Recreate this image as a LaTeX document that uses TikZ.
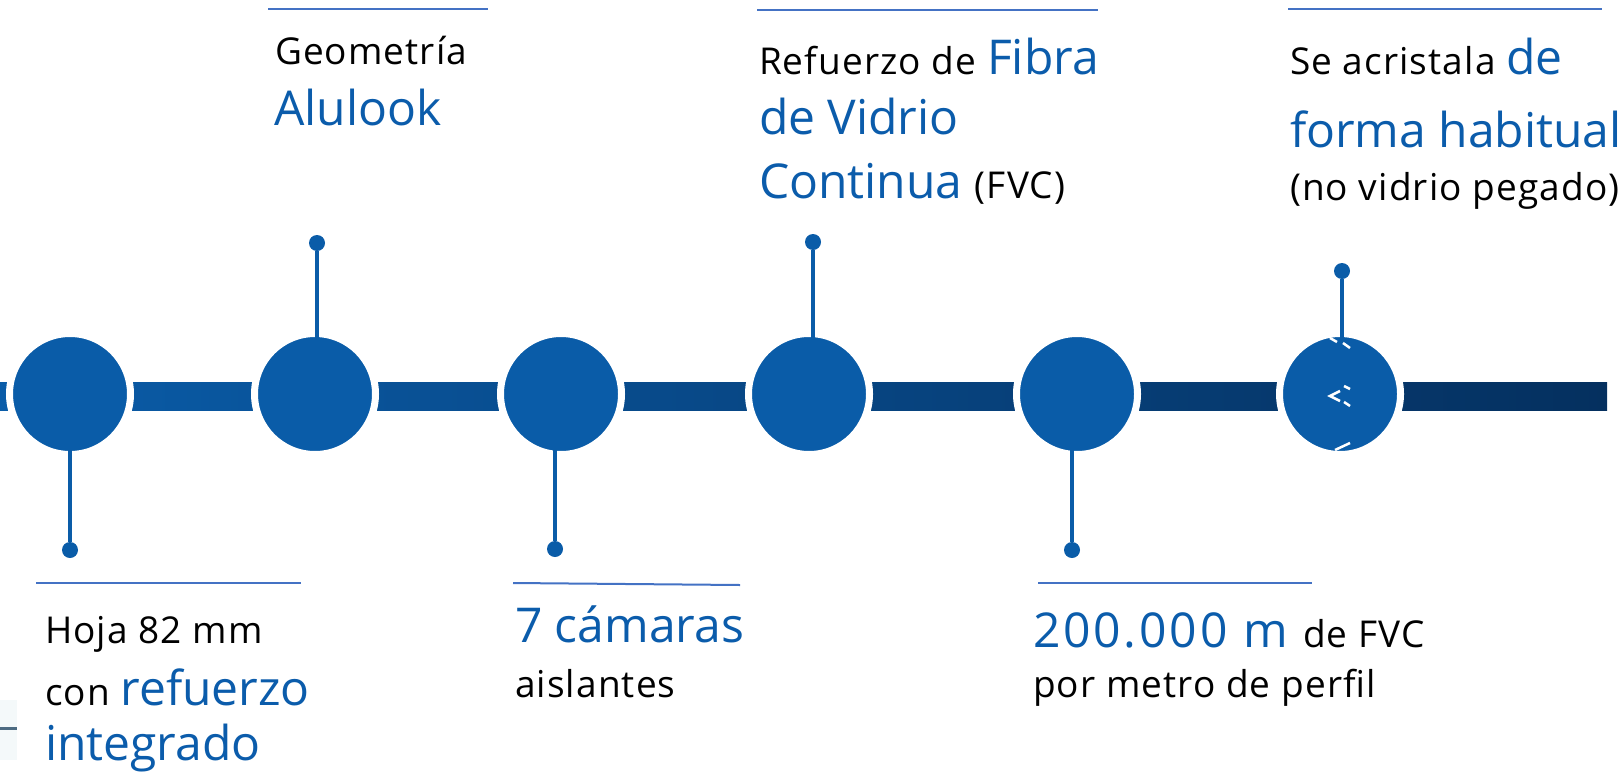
\documentclass[tikz,border=0pt]{standalone}
\usepackage{fontspec}
\setmainfont{Open Sans}
\definecolor{circblue}{HTML}{0A5CA8}
\definecolor{textblue}{HTML}{0B5CAB}
\definecolor{bardark}{HTML}{05305F}
\definecolor{rule}{HTML}{4472C4}
\newcommand\txtk[1]{{\fontsize{37}{44}\selectfont\addfontfeatures{LetterSpace=3}\color{black}#1}}
\newcommand\txtb[1]{{\fontsize{48}{56}\selectfont\color{textblue}#1}}
\newcommand\txtbw[1]{{\fontsize{48}{56}\selectfont\addfontfeatures{LetterSpace=6}\color{textblue}#1}}
\begin{document}
\begin{tikzpicture}[x=1pt,y=-1pt,
  circ/.style={circle,fill=circblue,draw=white,line width=7pt,minimum size=121pt,inner sep=0pt},
  dot/.style={circle,fill=circblue,minimum size=16pt,inner sep=0pt},
  stem/.style={draw=circblue,line width=4.5pt},
  rulel/.style={draw=rule,line width=2pt},
  lab/.style={anchor=base west,inner sep=0pt,outer sep=0pt}]
\useasboundingbox (0,0) rectangle (1621,779);
% left artifact
\fill[color={rgb,255:red,244;green,249;blue,250}] (0,700) rectangle (17,760);
\draw[color={rgb,255:red,77;green,107;blue,130},line width=3pt] (0,728) -- (17,728);
% bar
\shade[left color=circblue,right color=bardark] (0,382) rectangle (1607,410);
% circles
\node[circ] (c1) at (70,394) {};
\node[circ] (c2) at (315,394) {};
\node[circ] (c3) at (561,394) {};
\node[circ] (c4) at (809,394) {};
\node[circ] (c5) at (1077,394) {};
\node[circ] (c6) at (1340,394) {};
% dots
\node[dot] (d1) at (70,550) {};
\node[dot] (d2) at (317,243) {};
\node[dot] (d3) at (555,549) {};
\node[dot] (d4) at (813,242) {};
\node[dot] (d5) at (1072,550) {};
\node[dot] (d6) at (1342,271) {};
\draw[stem] (d1) -- (d1 |- c1.center);
\draw[stem] (d2) -- (d2 |- c2.center);
\draw[stem] (d3) -- (d3 |- c3.center);
\draw[stem] (d4) -- (d4 |- c4.center);
\draw[stem] (d5) -- (d5 |- c5.center);
\draw[stem] (d6) -- (d6 |- c6.center);
% white marks on last circle
\begin{scope}[draw=white,line width=2.5pt]
\draw (1340,391) -- (1330,396) -- (1340,401);
\draw (1344,386) -- (1350,389);
\draw (1344,402) -- (1350,406);
\draw (1330,338) -- (1337,342);
\draw (1343,343) -- (1350,348);
\draw (1335,450) -- (1350,443);
\end{scope}
% rules
\draw[rulel] (268,9) -- (488,9);
\draw[rulel] (757,10) -- (1098,10);
\draw[rulel] (1288,9) -- (1602,9);
\draw[rulel] (36,583) -- (301,583);
\draw[rulel] (513,583) -- (740,585);
\draw[rulel] (1038,583) -- (1312,583);
% texts top
\node[lab] (t2a) at (275,64) {\txtk{Geometría}};
\node[lab] (t2b) at (274,125) {\txtb{Alulook}};
\node[lab] (t4a) at (759,74) {\txtk{Refuerzo de }\txtb{Fibra}};
\node[lab] (t4b) at (759,134) {\txtb{de Vidrio}};
\node[lab] (t4c) at (759,198) {\txtb{Continua }\txtk{(FVC)}};
\node[lab] (t6a) at (1290,74) {\txtk{Se acristala }\txtb{de}};
\node[lab] (t6b) at (1290,147) {\txtb{forma habitual}};
\node[lab] (t6c) at (1290,200) {\txtk{(no vidrio pegado)}};
% texts bottom
\node[lab] (t1a) at (45,643) {\txtk{Hoja 82 mm}};
\node[lab] (t1b) at (45,705) {\txtk{con }\txtb{refuerzo}};
\node[lab] (t1c) at (45,760) {\txtb{integrado}};
\node[lab] (t3a) at (515,642) {\txtb{7 cámaras}};
\node[lab] (t3b) at (515,697) {\txtk{aislantes}};
\node[lab] (t5a) at (1033,647) {\txtbw{200.000 m }\txtk{de FVC}};
\node[lab] (t5b) at (1033,697) {\txtk{por metro de perfil}};
\end{tikzpicture}
\end{document}
